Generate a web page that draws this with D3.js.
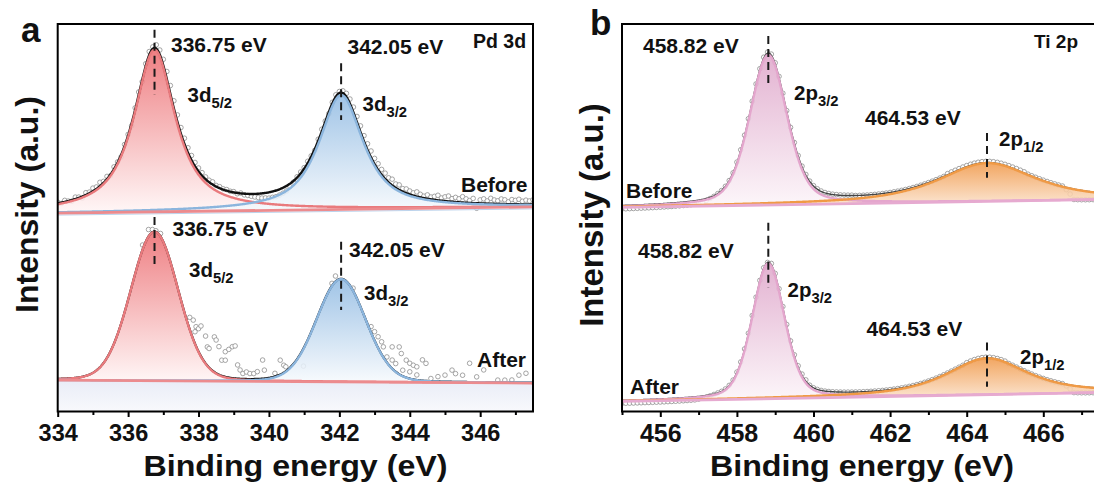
<!DOCTYPE html>
<html><head><meta charset="utf-8">
<script src="https://cdn.jsdelivr.net/npm/d3@7"></script>
<style>
html,body{margin:0;padding:0;background:#fff;}
svg{display:block;}
text{font-family:"Liberation Sans",Arial,Helvetica,sans-serif;font-weight:bold;fill:#111;}
</style></head><body>
<svg id="chart" width="1094" height="484"></svg>
<script>
// ================= DATA =================
const pdTicks = [334, 336, 338, 340, 342, 344, 346];
const pdMinorTicks = [335, 337, 339, 341, 343, 345, 347];
const tiTicks = [456, 458, 460, 462, 464, 466];
const tiMinorTicks = [455, 457, 459, 461, 463, 465, 467];

// Pd 3d fitted components (binding energy eV, intensity a.u.)
const pdPeakNames = ["3d", "3d"];
const pdPeakSubs = ["5/2", "3/2"];
const pdCenters = [336.75, 342.05];
const pdEnergyLabels = ["336.75 eV", "342.05 eV"];
const pdBeforeHeights = [41.8, 29.5];
const pdBeforeFwhm = [1.4, 1.5];
const pdBeforeEta = [0.9, 0.85];
const pdBeforeBackground = [51.2, 52.8];      // at 334.0 and 347.5 eV
const pdAfterHeights = [38.4, 26.5];
const pdAfterFwhm = [1.6, 1.65];
const pdAfterEta = [0.1, 0.1];
const pdAfterBackground = [8.1, 7.35];

// Pd 3d Before: measured minus fit (a.u.), every 0.1 eV from 334.0 eV
const pdBeforeResidual = [
  0.3, -0.2, 0.4, 0, -0.3, 0.5, 0.2, -0.4, 0.6, 0.3,
  0.8, 0.5, 1.0, 0.4, 0.7, -0.3, 0.6, 0.2, -0.5, 0.4,
  0.3, -0.6, 0.5, 0.8, -0.4, 0.6, 0.9, 0.5, 1.0, 1.2,
  1.6, 2.0, 2.2, 2.0, 1.8, 1.6, 1.5, 1.3, 1.2, 1.0,
  0.9, 0.8, 0.6, 0.5, 0.7, 0.3, 0.4, 0.2, 0.3, 0.1,
  0.2, -0.2, 0.1, -0.3, -0.4, -0.6, -0.8, -1.0, -1.2, -1.3,
  -1.5, -1.5, -1.6, -1.5, -1.4, -1.3, -0.8, -0.3, 0.2, 0.4,
  0.3, 0.5, 0.2, -0.3, 0.4, 0.6, 0.2, -0.4, 0.3, 0.5,
  0.4, 0.6, 0.9, 1.2, 1.4, 1.5, 1.6, 1.5, 1.6, 1.7,
  1.5, 1.6, 1.4, 1.5, 1.2, 1.6, 1.0, 1.3, 0.8, 1.1,
  0.9, 0.7, 1.2, 0.8, 0.5, 1.0, 0.6, 0.9, 1.3, 0.7,
  1.1, 1.4, 0.8, 1.2, 0.9, 1.5, 1.0, 0.6, 1.2, -1.3,
  0.9, 1.2, 0.7, 1.4, 1.0, 0.8, 1.3, 1.1, 0.6, 1.2,
  1.0, 1.3, 0.8, 1.1, 0.9, 1.2
];
// Pd 3d After: visible measured points (eV, a.u. above background)
const pdAfterPointE = [
  336.41, 336.58, 336.69, 336.79, 336.92, 337.75, 337.85, 337.90, 337.93, 338.00,
  338.07, 338.20, 338.25, 338.30, 338.45, 338.50, 338.58, 338.66, 338.76, 338.76,
  338.86, 338.96, 339.04, 339.11, 339.18, 339.26, 339.36, 339.46, 339.57, 339.67,
  339.82, 339.87, 340.17, 340.32, 340.42, 340.48, 340.98, 341.79, 341.89, 342.39,
  342.90, 343.00, 343.10, 343.20, 343.25, 343.35, 343.50, 343.50, 343.60, 343.70,
  343.76, 343.80, 343.90, 344.00, 344.00, 344.10, 344.20, 344.20, 344.36, 344.46,
  344.60, 344.80, 345.00, 345.20, 345.30, 345.50, 345.70, 345.90, 346.10, 346.50,
  346.70, 346.90, 347.10, 347.30
];
const pdAfterPointI = [
  35.0, 39.0, 39.0, 38.7, 38.0, 16.4, 15.7, 12.7, 14.0, 13.5,
  14.2, 11.6, 8.8, 8.4, 11.4, 10.6, 8.9, 5.4, 5.4, 7.6,
  8.2, 8.9, 9.1, 4.2, 2.9, 2.0, 2.4, 2.0, 2.0, 2.5,
  5.5, 2.9, 2.1, 5.5, 4.2, 3.8, 4.0, 25.4, 27.3, 24.2,
  14.3, 13.0, 11.7, 10.4, 9.1, 6.5, 9.1, 5.7, 4.8, 9.1,
  7.4, 3.1, 5.7, 4.9, 2.7, 4.4, 4.0, 1.9, 5.8, 4.9,
  1.0, 1.5, 1.9, 3.2, 2.3, 1.9, 5.0, 1.5, 3.3, 0.7,
  0.7, 0.75, 2.0, 2.5
];

// Ti 2p fitted components
const tiPeakNames = ["2p", "2p"];
const tiPeakSubs = ["3/2", "1/2"];
const tiCenters = [458.82, 464.53];
const tiEnergyLabels = ["458.82 eV", "464.53 eV"];
const tiBeforeHeights = [38.7, 9.9];
const tiBeforeFwhm = [1.15, 3.0];
const tiBeforeEta = [0.35, 0.75];
const tiBeforeBackground = [52.7, 54.7];      // at 455.0 and 467.55 eV
const tiAfterHeights = [34.9, 9.4];
const tiAfterFwhm = [1.0, 2.5];
const tiAfterEta = [0.3, 0.75];
const tiAfterBackground = [2.6, 4.9];

// Ti 2p measured minus fit (a.u.), every 0.1 eV from 455.0 eV
const tiBeforeResidual = [
  -0.9, -0.9, -0.9, -0.9, -0.9, -0.9, -0.9, -0.9, -0.9, -0.9,
  -0.9, -0.9, -0.9, -0.9, -0.9, -0.9, -0.9, -0.9, -0.9, -0.9,
  -0.8, -0.65, -0.5, -0.3, -0.15, 0, 0, 0, 0, 0,
  0.2, 0.2, 0.2, 0.2, 0.2, 0.2, 0.2, 0.3, 0.3, 0.3,
  0.3, 0.3, 0.2, 0.2, 0.2, 0.2, 0.2, 0.2, 0.2, 0.1,
  0.1, 0.1, 0.1, 0.1, 0.1, 0.1, 0.1, 0.1, 0.1, 0.1,
  0.1, 0, 0, 0, 0, 0, 0, 0, 0, 0,
  0, 0, 0, 0, 0, 0, 0, 0, 0, 0,
  0, 0, 0, 0, 0, 0.3, 0.3, 0.3, 0.3, 0.3,
  0.3, 0.3, 0.3, 0.3, 0.3, 0.3, 0.3, 0.3, 0.3, 0.3,
  0.3, 0.3, 0.3, 0.3, 0.3, 0.3, 0.1, 0.1, 0.1, 0.1,
  0.1, 0.1, 0.1, 0.1, 0.1, 0.1, -0.6, -1.5, -2.7, -2.55,
  -2.4, -2.25, -2.1, -1.95, -1.8, -1.7
];
const tiAfterResidual = [
  -0.8, -0.8, -0.8, -0.8, -0.8, -0.8, -0.8, -0.8, -0.8, -0.8,
  -0.8, -0.8, -0.8, -0.8, -0.8, -0.8, -0.8, -0.8, -0.8, -0.8,
  -0.7, -0.55, -0.4, -0.25, -0.1, 0, 0, 0, 0, 0,
  0.15, 0.15, 0.15, 0.15, 0.15, 0.15, 0.15, 0.15, 0, 0.35,
  0.35, 0.35, 0.35, 0.35, 0.35, 0.35, 0.35, 0.35, 0.35, 0,
  0, 0, 0, 0, 0, 0, 0, 0, 0, 0,
  0, 0, 0, 0, 0, 0, 0, 0, 0, 0,
  0, 0, 0, 0, 0, 0, 0, 0, 0, 0,
  0, 0, 0, 0, 0, 0, 0, 0, 0, 0,
  0.2, 0.2, 0.2, 0.2, 0.2, 0.2, 0.2, 0.2, 0.2, 0.2,
  0.2, 0, 0, 0, 0, 0, 0, 0, 0, 0,
  0, 0, 0, 0, 0, 0, -0.4, -1.0, -1.8, -1.7,
  -1.6, -1.5, -1.4, -1.3, -1.2, -1.1
];

const stateLabels = ["Before", "After"];
const panelTitles = ["Pd 3d", "Ti 2p"];
const panelLetters = ["a", "b"];
const xTitle = "Binding energy (eV)";
const yTitle = "Intensity (a.u.)";

// ================= LAYOUT / STYLE =================
const svg = d3.select("#chart");
const defs = svg.append("defs");
const PA = {left: 57.7, right: 533};
const PB = {left: 622, right: 1094};
const TOP = 24, BOTTOM = 411.5;
const Y = d3.scaleLinear().domain([0, 100]).range([BOTTOM, TOP]);
const XA = d3.scaleLinear().domain([334, 347.5]).range([PA.left, PA.right]);
const XB = d3.scaleLinear().domain([455, 467]).range([PB.left, PB.left + 12 * 38.3]);
const STEP = 0.1;

const colors = {
  red:   {stroke: "#e97a7d", top: "#ec6e72", bottom: "#fff6f6"},
  blue:  {stroke: "#8bb5dd", top: "#93bce3", bottom: "#f7fafd"},
  pink:  {stroke: "#e4a6cd", top: "#dfa8cb", bottom: "#fcf5f9"},
  orange:{stroke: "#f09a45", top: "#f09a4c", bottom: "#fce6d2"}
};

function pv(e, c, h, w, eta) {
  const t = (e - c) / w;
  return h * ((1 - eta) * Math.exp(-4 * Math.LN2 * t * t) + eta / (1 + 4 * t * t));
}

const spectra = [
  {x: XA, e0: 334, e1: 347.5, bg: pdBeforeBackground, centers: pdCenters,
   heights: pdBeforeHeights, fwhm: pdBeforeFwhm, eta: pdBeforeEta, comp: ["red", "blue"],
   residual: pdBeforeResidual, baseColor: "#ec8b8e", envColor: "#111", envWidth: 2.4, blueLine: true,
   names: pdPeakNames, subs: pdPeakSubs, eLabels: pdEnergyLabels, state: stateLabels[0],
   layout: {energy: [[171, 52], [347.5, 54]], peak: [[187.5, 102], [362.5, 111]], state: [461, 191.5],
            dash: [[98.5, 81.7], [89.9, 75.2]]}},
  {x: XA, e0: 334, e1: 347.5, bg: pdAfterBackground, centers: pdCenters,
   heights: pdAfterHeights, fwhm: pdAfterFwhm, eta: pdAfterEta, comp: ["red", "blue"],
   pointE: pdAfterPointE, pointI: pdAfterPointI, baseColor: "#ec8b8e", envColor: "#111", envWidth: 2.2,
   underFill: true,
   names: pdPeakNames, subs: pdPeakSubs, eLabels: pdEnergyLabels, state: stateLabels[1],
   layout: {energy: [[172.5, 236], [349, 257]], peak: [[189, 277], [364, 300]], state: [477, 367],
            dash: [[50.2, 37.8], [43.8, 26.2]]}},
  {x: XB, e0: 455, e1: 467.55, bg: tiBeforeBackground, centers: tiCenters,
   heights: tiBeforeHeights, fwhm: tiBeforeFwhm, eta: tiBeforeEta, comp: ["pink", "orange"],
   residual: tiBeforeResidual, baseColor: "#e6aad0", envColor: "#444", envWidth: 1.4,
   names: tiPeakNames, subs: tiPeakSubs, eLabels: tiEnergyLabels, state: stateLabels[0],
   layout: {energy: [[643, 53], [865, 125]], peak: [[794, 100], [999, 146]], state: [626, 198],
            dash: [[96.9, 84.3], [71.9, 60.3]]}},
  {x: XB, e0: 455, e1: 467.55, bg: tiAfterBackground, centers: tiCenters,
   heights: tiAfterHeights, fwhm: tiAfterFwhm, eta: tiAfterEta, comp: ["pink", "orange"],
   residual: tiAfterResidual, baseColor: "#e6aad0", envColor: "#444", envWidth: 1.4,
   names: tiPeakNames, subs: tiPeakSubs, eLabels: tiEnergyLabels, state: stateLabels[1],
   layout: {energy: [[638, 258], [866.5, 336]], peak: [[787.5, 297], [1020, 364]], state: [630, 394],
            dash: [[48.7, 31.9], [17.8, 6.4]]}}
];

// clip paths
defs.append("clipPath").attr("id", "clipA").append("rect")
  .attr("x", PA.left).attr("y", TOP).attr("width", PA.right - PA.left).attr("height", BOTTOM - TOP);
defs.append("clipPath").attr("id", "clipB").append("rect")
  .attr("x", PB.left).attr("y", TOP).attr("width", PB.right - PB.left).attr("height", BOTTOM - TOP);

// gradients
Object.entries(colors).forEach(([k, c]) => {
  const g = defs.append("linearGradient").attr("id", "grad-" + k)
    .attr("x1", 0).attr("y1", 0).attr("x2", 0).attr("y2", 1);
  g.append("stop").attr("offset", "0%").attr("stop-color", c.top);
  g.append("stop").attr("offset", "100%").attr("stop-color", c.bottom);
});
const gUnder = defs.append("linearGradient").attr("id", "grad-under")
  .attr("x1", 0).attr("y1", 0).attr("x2", 0).attr("y2", 1);
gUnder.append("stop").attr("offset", "0%").attr("stop-color", "#e9ecf7");
gUnder.append("stop").attr("offset", "100%").attr("stop-color", "#f8f9fc");

const FONT_LABEL = 21, FONT_PEAK = 20.5;

spectra.forEach(s => {
  const X = s.x;
  const g = svg.append("g").attr("clip-path", s.x === XA ? "url(#clipA)" : "url(#clipB)");
  const bgAt = e => s.bg[0] + (s.bg[1] - s.bg[0]) * (e - s.e0) / (s.e1 - s.e0);
  const comp = (e, k) => pv(e, s.centers[k], s.heights[k], s.fwhm[k], s.eta[k]);
  const env = e => bgAt(e) + s.centers.reduce((acc, c, k) => acc + comp(e, k), 0);
  const grid = d3.range(s.e0, s.e1 + 0.0001, 0.02);

  if (s.underFill) {
    g.append("path").datum(grid)
      .attr("d", d3.area().x(e => X(e)).y0(Y(0)).y1(e => Y(bgAt(e))))
      .attr("fill", "url(#grad-under)");
  }

  // measured points
  let pts;
  if (s.residual) {
    pts = s.residual.map((r, i) => { const e = s.e0 + i * STEP; return [e, env(e) + r]; });
  } else {
    pts = s.pointE.map((e, i) => [e, bgAt(e) + s.pointI[i]]);
  }
  g.append("g").selectAll("circle").data(pts).join("circle")
    .attr("cx", d => X(d[0])).attr("cy", d => Y(d[1])).attr("r", 2.3)
    .attr("fill", "#fff").attr("stroke", "#8e8e8e").attr("stroke-width", 0.8);

  // component fills
  s.centers.forEach((c, k) => {
    g.append("path").datum(grid)
      .attr("d", d3.area().x(e => X(e)).y0(e => Y(bgAt(e))).y1(e => Y(bgAt(e) + comp(e, k))))
      .attr("fill", "url(#grad-" + s.comp[k] + ")").attr("fill-opacity", 0.88);
  });
  // envelope
  g.append("path").datum(grid)
    .attr("d", d3.line().x(e => X(e)).y(e => Y(env(e))))
    .attr("fill", "none").attr("stroke", s.envColor).attr("stroke-width", s.envWidth);
  // component strokes
  s.centers.forEach((c, k) => {
    g.append("path").datum(grid)
      .attr("d", d3.line().x(e => X(e)).y(e => Y(bgAt(e) + comp(e, k))))
      .attr("fill", "none").attr("stroke", colors[s.comp[k]].stroke).attr("stroke-width", 2.4);
  });
  // background line (on top)
  if (s.blueLine) {
    g.append("path").datum([s.e0, s.e1])
      .attr("d", d3.line().x(e => X(e)).y(e => Y(bgAt(e)) + 2))
      .attr("fill", "none").attr("stroke", "#bcd3ec").attr("stroke-width", 1);
  }
  g.append("path").datum([s.e0, s.e1])
    .attr("d", d3.line().x(e => X(e)).y(e => Y(bgAt(e))))
    .attr("fill", "none").attr("stroke", s.baseColor).attr("stroke-width", 2.8);

  // annotations
  const L = s.layout;
  s.centers.forEach((c, k) => {
    svg.append("line").attr("x1", X(c)).attr("x2", X(c))
      .attr("y1", Y(L.dash[k][0])).attr("y2", Y(L.dash[k][1]))
      .attr("stroke", "#1a1a1a").attr("stroke-width", 2).attr("stroke-dasharray", "8,5");
    svg.append("text").attr("x", L.energy[k][0]).attr("y", L.energy[k][1])
      .attr("font-size", FONT_LABEL).text(s.eLabels[k]);
    const t = svg.append("text").attr("x", L.peak[k][0]).attr("y", L.peak[k][1])
      .attr("font-size", FONT_PEAK);
    t.append("tspan").text(s.names[k]);
    t.append("tspan").attr("font-size", FONT_PEAK * 0.72).attr("dy", 6).text(s.subs[k]);
  });
  svg.append("text").attr("x", L.state[0]).attr("y", L.state[1])
    .attr("font-size", 21).text(s.state);
});

// ============ frames & axes ============
svg.append("rect").attr("x", PA.left).attr("y", TOP).attr("width", PA.right - PA.left).attr("height", BOTTOM - TOP)
  .attr("fill", "none").attr("stroke", "#000").attr("stroke-width", 2);
svg.append("path").attr("d", `M1100,${TOP}H${PB.left}V${BOTTOM}H1100`)
  .attr("fill", "none").attr("stroke", "#000").attr("stroke-width", 2);

function drawAxis(X, ticks, minor, fontSize) {
  const gMaj = svg.append("g").attr("transform", `translate(0,${BOTTOM})`)
    .call(d3.axisBottom(X).tickValues(ticks).tickSize(5.5).tickSizeOuter(0).tickPadding(7)
      .tickFormat(d3.format("d")));
  gMaj.select(".domain").remove();
  gMaj.selectAll("line").attr("stroke", "#000").attr("stroke-width", 2);
  gMaj.selectAll("text").attr("font-size", fontSize).attr("fill", "#111")
    .style("font-family", '"Liberation Sans",Arial,sans-serif').style("font-weight", "bold");
  const gMin = svg.append("g").attr("transform", `translate(0,${BOTTOM})`)
    .call(d3.axisBottom(X).tickValues(minor).tickSize(3.5).tickSizeOuter(0).tickFormat(""));
  gMin.select(".domain").remove();
  gMin.selectAll("line").attr("stroke", "#000").attr("stroke-width", 2);
}
drawAxis(XA, pdTicks, pdMinorTicks, 23.5);
drawAxis(XB, tiTicks, tiMinorTicks, 25);

svg.append("text").attr("x", 295.5).attr("y", 476).attr("text-anchor", "middle")
  .attr("font-size", 30).attr("textLength", 304).attr("lengthAdjust", "spacingAndGlyphs").text(xTitle);
svg.append("text").attr("x", 862).attr("y", 476).attr("text-anchor", "middle")
  .attr("font-size", 30).attr("textLength", 304).attr("lengthAdjust", "spacingAndGlyphs").text(xTitle);
svg.append("text").attr("transform", "translate(37.5,204.5) rotate(-90)").attr("text-anchor", "middle")
  .attr("font-size", 32).text(yTitle);
svg.append("text").attr("transform", "translate(603,215) rotate(-90)").attr("text-anchor", "middle")
  .attr("font-size", 33).text(yTitle);

svg.append("text").attr("x", 21).attr("y", 42).attr("font-size", 35).text(panelLetters[0]);
svg.append("text").attr("x", 590).attr("y", 35).attr("font-size", 35).text(panelLetters[1]);
svg.append("text").attr("x", 473).attr("y", 48).attr("font-size", 19.5).text(panelTitles[0]);
svg.append("text").attr("x", 1034).attr("y", 48).attr("font-size", 19).text(panelTitles[1]);
</script>
</body></html>
